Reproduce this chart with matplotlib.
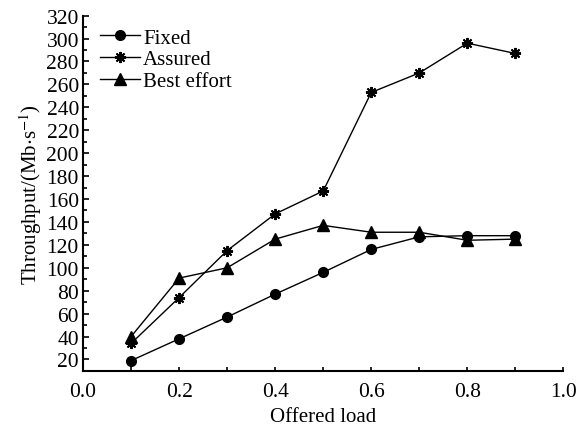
import numpy as np
import matplotlib
matplotlib.use('Agg')
import matplotlib.pyplot as plt
from matplotlib.ticker import MultipleLocator

load = [0.1, 0.2, 0.3, 0.4, 0.5, 0.6, 0.7, 0.8, 0.9]
fixed = [19, 38, 57, 77, 96, 116, 127, 128, 128]
assured = [34, 74, 115, 147, 167, 253, 270, 296, 287]
best_effort = [40, 91, 100, 125, 137, 131, 131, 124, 125]

plt.rcParams['font.family'] = ['Liberation Serif', 'DejaVu Serif']
plt.rcParams['mathtext.fontset'] = 'stix'

fig = plt.figure(figsize=(5.85, 4.27), dpi=100)
ax = fig.add_axes([0.142, 0.129, 0.821, 0.832])

ax.plot(load, fixed, color='black', lw=1, marker='o', ms=7, label='Fixed')
ax.plot(load, assured, color='black', lw=1, marker=(8, 2, 0), ms=8, mew=1.4, label='Assured')
ax.plot(load, best_effort, color='black', lw=1, marker='^', ms=8, label='Best effort')

ax.set_xlim(0, 1.0)
ax.set_ylim(10, 320)
ax.xaxis.set_major_locator(MultipleLocator(0.2))
ax.xaxis.set_minor_locator(MultipleLocator(0.1))
ax.yaxis.set_major_locator(MultipleLocator(20))
ax.yaxis.set_minor_locator(MultipleLocator(10))
ax.xaxis.set_major_formatter(plt.FuncFormatter(lambda v, p: f'{v:.1f}'))

for s in ['top', 'right']:
    ax.spines[s].set_visible(False)
for s in ['left', 'bottom']:
    ax.spines[s].set_linewidth(1.5)

ax.tick_params(which='both', direction='in', labelsize=15.5, width=1.2)
ax.tick_params(which='major', length=4)
ax.tick_params(which='minor', length=3)
ax.tick_params(axis='x', which='major', length=3, pad=8)
ax.tick_params(axis='y', pad=3)

ax.set_xlabel('Offered load', fontsize=15, labelpad=4)
ax.set_ylabel(r'Throughput/(Mb$\cdot$s$^{-1}$)', fontsize=15, labelpad=2)

ax.legend(loc='upper left', bbox_to_anchor=(0.01, 1.0), frameon=False, fontsize=15,
          handlelength=1.9, handletextpad=0.15, labelspacing=0.1, borderaxespad=0.2)

fig.savefig('out.png', dpi=100)
